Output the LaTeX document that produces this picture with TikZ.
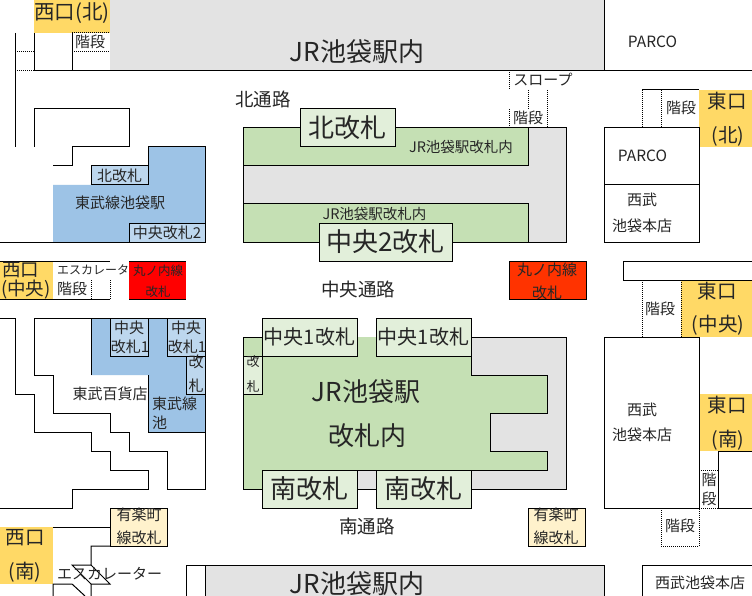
\documentclass[tikz,border=0pt]{standalone}
\usepackage{fontspec}
\setmainfont{Noto Sans CJK JP}
\definecolor{jrgray}{HTML}{E3E3E3}
\definecolor{jrgreen}{HTML}{C5E0B4}
\definecolor{jrgate}{HTML}{E2EFDA}
\definecolor{tobublue}{HTML}{9DC3E6}
\definecolor{tobugate}{HTML}{BDD7EE}
\definecolor{exityellow}{HTML}{FFD966}
\definecolor{yucream}{HTML}{FFF2CC}
\definecolor{maruorange}{HTML}{FF3300}
\definecolor{inktext}{HTML}{262626}
\tikzset{
	wall/.style={line width=1pt, black},
	stairs/.style={line width=1pt, black, densely dotted},
	lbl/.style={inner sep=0pt, text=inktext},
	small/.style={lbl, font=\fontsize{15}{15}\selectfont},
	tiny/.style={lbl, font=\fontsize{14.5}{14.5}\selectfont},
	mid/.style={lbl, font=\fontsize{18.5}{18.5}\selectfont},
	exitlbl/.style={lbl, font=\fontsize{19.5}{19.5}\selectfont},
	big/.style={lbl, font=\fontsize{26}{26}\selectfont},
	gate/.style={draw=black, line width=1pt, inner sep=0pt, text=inktext},
}
\begin{document}
\begin{tikzpicture}[x=1pt, y=-1pt]
	\useasboundingbox (0,0) rectangle (752,596);
	\fill[white] (0,0) rectangle (752,596);

	\fill[jrgray] (110,0) rectangle (604,71);
	\fill[jrgray] (205,565) rectangle (604,596);
	\fill[jrgray] (243,128) rectangle (566,242);
	\fill[jrgray] (243,337) rectangle (566,489);
	\fill[jrgreen] (243,128) rectangle (528,166);
	\fill[jrgreen] (243,204) rectangle (528,242);
	\fill[jrgreen] (243,337) -- (471,337) -- (471,375) -- (547,375) -- (547,413) -- (490,413) -- (490,451) -- (547,451) -- (547,470) -- (262,470) -- (262,489) -- (243,489) -- cycle;
	\fill[tobublue] (148,147) -- (205,147) -- (205,242) -- (53,242) -- (53,185) -- (91,185) -- (91,166) -- (148,166) -- cycle;
	\fill[tobublue] (91,318) -- (205,318) -- (205,432) -- (148,432) -- (148,375) -- (91,375) -- cycle;
	\fill[exityellow] (34,0) rectangle (110,33);
	\fill[exityellow] (0,261) rectangle (53,299);
	\fill[exityellow] (0,527) rectangle (53,584);
	\fill[exityellow] (699,90) rectangle (752,147);
	\fill[exityellow] (681,280) rectangle (752,337);
	\fill[exityellow] (699,394) rectangle (752,451);
	\fill[red] (129,261) rectangle (186,299);

	\draw[wall] (604,0) -- (604,71);
	\draw[wall] (34,71) -- (752,71);
	\draw[wall] (15,33) -- (15,147);
	\draw[wall] (34,33) -- (34,71);
	\draw[wall] (72,33) -- (72,71);
	\draw[wall] (34,147) -- (34,109) -- (129,109) -- (129,147) -- (72,147) -- (72,166) -- (53,166);
	\draw[wall] (0,242) -- (205,242) -- (205,147) -- (148,147) -- (148,166);
	\draw[wall] (0,261) -- (110,261);
	\draw[wall] (0,299) -- (110,299);
	\draw[wall] (129,261) -- (186,261);
	\draw[wall] (129,299) -- (186,299);
	\draw[wall] (0,318) -- (15,318) -- (15,394) -- (34,394) -- (34,432) -- (91,432) -- (91,451) -- (110,451) -- (110,470) -- (148,470) -- (148,489) -- (72,489) -- (72,508) -- (0,508);
	\draw[wall] (91,375) -- (91,318) -- (34,318) -- (34,375) -- (53,375) -- (53,413) -- (110,413) -- (110,432) -- (129,432) -- (129,451) -- (167,451) -- (167,489) -- (205,489) -- (205,318) -- (91,318);
	\draw[wall] (148,375) -- (148,432) -- (205,432);
	\draw[wall] (53,527) -- (110,527);
	\draw[wall] (167,546) -- (91,546) -- (91,565) -- (72,565) -- (91,584);
	\draw[wall] (91,565) -- (110,584) -- (91,584) -- (91,596);
	\draw[wall] (53,596) -- (53,584) -- (72,584) -- (85,596);
	\draw[wall] (186,596) -- (186,565) -- (604,565) -- (604,596);
	\draw[wall] (205,565) -- (205,596);
	\draw[wall] (243,128) rectangle (566,242);
	\draw[wall] (243,166) -- (528,166) -- (528,128);
	\draw[wall] (243,204) -- (528,204) -- (528,242);
	\draw[wall] (262,337) -- (243,337) -- (243,489) -- (566,489) -- (566,337) -- (471,337);
	\draw[wall] (471,337) -- (471,375) -- (547,375) -- (547,413) -- (490,413) -- (490,451) -- (547,451) -- (547,470) -- (262,470);
	\draw[wall] (604,128) rectangle (699,242);
	\draw[wall] (604,185) -- (699,185);
	\draw[wall] (642,90) -- (699,90);
	\draw[wall] (752,261) -- (623,261) -- (623,280) -- (752,280);
	\draw[wall] (604,337) rectangle (699,508);
	\draw[wall] (752,451) -- (718,451) -- (718,508) -- (752,508);
	\draw[wall] (642,596) -- (642,565) -- (752,565);
	\draw[wall, fill=maruorange] (509,261) rectangle (586,299);
	\draw[wall, fill=yucream] (110,508) rectangle (167,546);
	\draw[wall, fill=yucream] (528,508) rectangle (585,546);

	\draw[stairs] (15,52) -- (34,52);
	\draw[stairs] (15,71) -- (34,71);
	\draw[stairs] (72,33) -- (110,33);
	\draw[stairs] (72,52) -- (110,52);
	\draw[stairs] (72,71) -- (110,71);
	\draw[stairs] (91,280) -- (91,299);
	\draw[stairs] (110,280) -- (110,299);
	\draw[stairs] (509,72) -- (509,90);
	\draw[stairs] (509,109) -- (509,128);
	\draw[stairs] (528,90) -- (528,109);
	\draw[stairs] (547,90) -- (547,128);
	\draw[stairs] (642,90) -- (642,128);
	\draw[stairs] (661,90) -- (661,128);
	\draw[stairs] (642,280) -- (642,337);
	\draw[stairs] (681,280) -- (681,337);
	\draw[stairs] (699,470) -- (718,470);
	\draw[stairs] (699,470) -- (699,508);
	\draw[stairs] (699,508) -- (718,508);
	\draw[stairs] (661,508) -- (661,546) -- (699,546) -- (699,508);

	\node[gate, fill=jrgate, minimum width=95pt, minimum height=38pt, font=\fontsize{26}{26}\selectfont] (kitagate) at (347.5,128) {北改札};
	\node[gate, fill=jrgate, minimum width=133pt, minimum height=38pt, font=\fontsize{26}{26}\selectfont] (chuo2gate) at (385.5,242) {中央2改札};
	\node[gate, fill=jrgate, minimum width=95pt, minimum height=38pt, font=\fontsize{20}{20}\selectfont] (chuo1gatea) at (309.5,337) {中央1改札};
	\node[gate, fill=jrgate, minimum width=95pt, minimum height=38pt, font=\fontsize{20}{20}\selectfont] (chuo1gateb) at (423.5,337) {中央1改札};
	\node[gate, fill=jrgate, minimum width=95pt, minimum height=38pt, font=\fontsize{26}{26}\selectfont] (minamigatea) at (309.5,489) {南改札};
	\node[gate, fill=jrgate, minimum width=95pt, minimum height=38pt, font=\fontsize{26}{26}\selectfont] (minamigateb) at (423.5,489) {南改札};
	\node[gate, fill=jrgate, minimum width=19pt, minimum height=38pt] (sidegate) at (252.5,375) {};
	\node[gate, fill=tobugate, minimum width=57pt, minimum height=19pt, font=\fontsize{15}{15}\selectfont] (tobukita) at (119.5,175.5) {北改札};
	\node[gate, fill=tobugate, minimum width=76pt, minimum height=19pt, font=\fontsize{15}{15}\selectfont] (tobuchuo2) at (167,232.5) {中央改札2};
	\node[gate, fill=tobugate, minimum width=38pt, minimum height=38pt] (tobuchuoa) at (129,337) {};
	\node[gate, fill=tobugate, minimum width=38pt, minimum height=38pt] (tobuchuob) at (186,337) {};
	\node[gate, fill=tobugate, minimum width=19pt, minimum height=38pt] (tobuside) at (195.5,375) {};

	\node[big] (jrtop) at (357,52) {JR池袋駅内};
	\node[big] (jrbottom) at (357,584) {JR池袋駅内};
	\node[big] (jrinside) at (366,392) {JR池袋駅};
	\node[big] (jrgates) at (367,436) {改札内};
	\node[tiny] (jrnorth) at (461,147) {JR池袋駅改札内};
	\node[tiny] (jrsouth) at (374.5,214) {JR池袋駅改札内};
	\node[mid] (kitatsuro) at (263,99) {北通路};
	\node[mid] (chuotsuro) at (358,289) {中央通路};
	\node[mid] (minamitsuro) at (367,526) {南通路};
	\node[lbl, font=\fontsize{13}{13}\selectfont] (sidekai) at (253,362) {改};
	\node[lbl, font=\fontsize{13}{13}\selectfont] (sidesatsu) at (253,387) {札};

	\node[lbl, font=\fontsize{20.5}{20.5}\selectfont] (nishikita) at (72,13) {西口(北)};
	\node[lbl, font=\fontsize{18.5}{18.5}\selectfont, anchor=west] (nishichuoa) at (2,270) {西口};
	\node[lbl, font=\fontsize{18.5}{18.5}\selectfont, anchor=west] (nishichuob) at (1,290) {(中央)};
	\node[exitlbl] (nishiminamia) at (25,538) {西口};
	\node[exitlbl] (nishiminamib) at (25,572) {(南)};
	\node[exitlbl] (higashikitaa) at (727,101) {東口};
	\node[exitlbl] (higashikitab) at (728,136) {(北)};
	\node[exitlbl] (higashichuoa) at (717,291) {東口};
	\node[exitlbl] (higashichuob) at (718,325) {(中央)};
	\node[exitlbl] (higashiminamia) at (727,405) {東口};
	\node[exitlbl] (higashiminamib) at (728,440) {(南)};

	\node[small] (tobuname) at (120,203) {東武線池袋駅};
	\node[small] (tobuchuoatop) at (129,328) {中央};
	\node[small] (tobuchuoabot) at (130,347) {改札1};
	\node[small] (tobuchuobtop) at (186,328) {中央};
	\node[small] (tobuchuobbot) at (187,347) {改札1};
	\node[small] (tobusidekai) at (196,362) {改};
	\node[small] (tobusidesatsu) at (196,386) {札};
	\node[small, anchor=west] (tobuline) at (152,404) {東武線};
	\node[small, anchor=west] (tobuike) at (152,423) {池};
	\node[small] (tobudept) at (110,394) {東武百貨店};

	\node[small] (stairsnw) at (90,42) {階段};
	\node[lbl, font=\fontsize{12}{12}\selectfont, anchor=west] (escwest) at (57,270) {エスカレータ};
	\node[small] (stairswest) at (72,289) {階段};
	\node[small] (slope) at (543,80) {スロープ};
	\node[small] (stairsnorth) at (528,118) {階段};
	\node[small] (stairsne) at (681,108) {階段};
	\node[small] (stairseast) at (660,309) {階段};
	\node[small] (stairskai) at (709,480) {階};
	\node[small] (stairsdan) at (709,499) {段};
	\node[small] (stairsse) at (680,526) {階段};
	\node[small, anchor=west] (escsouth) at (57,574) {エスカレーター};

	\node[lbl, font=\fontsize{12.5}{12.5}\selectfont] (marunw) at (158,271) {丸ノ内線};
	\node[lbl, font=\fontsize{12.5}{12.5}\selectfont] (marunwgate) at (158,292) {改札};
	\node[small] (marune) at (547,270) {丸ノ内線};
	\node[small] (marunegate) at (547,293) {改札};
	\node[small] (yuwest) at (139,515) {有楽町};
	\node[small] (yuwestgate) at (139,538) {線改札};
	\node[small] (yueast) at (556,515) {有楽町};
	\node[small] (yueastgate) at (556,538) {線改札};

	\node[lbl, font=\fontsize{15.5}{15.5}\selectfont] (parcotop) at (652.5,41.5) {PARCO};
	\node[lbl, font=\fontsize{15.5}{15.5}\selectfont] (parcobox) at (642.5,155.5) {PARCO};
	\node[small] (seibua) at (642,200) {西武};
	\node[small] (seibuaname) at (642,226) {池袋本店};
	\node[small] (seibub) at (642,410) {西武};
	\node[small] (seibubname) at (642,435) {池袋本店};
	\node[small] (seibusouth) at (700,583) {西武池袋本店};
\end{tikzpicture}
\end{document}
